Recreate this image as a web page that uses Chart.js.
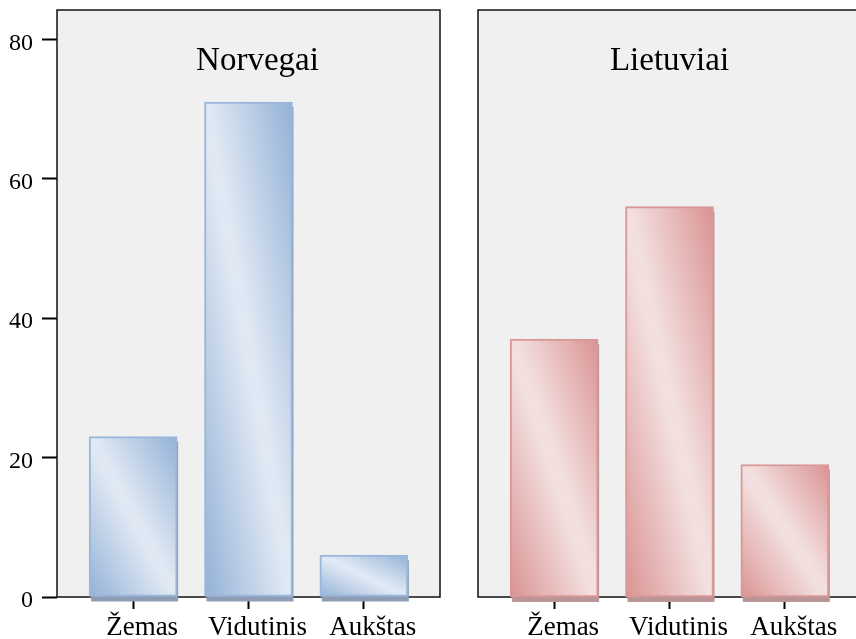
<!DOCTYPE html>
<html><head><meta charset="utf-8">
<script src="https://cdn.jsdelivr.net/npm/chart.js@4.4.0/dist/chart.umd.min.js"></script>
<style>
html,body{margin:0;padding:0;background:#fff;overflow:hidden;width:856px;height:639px;position:relative;}
#c1{position:absolute;left:0;top:0;}
#c2{position:absolute;left:440px;top:0;}
</style></head><body>
<canvas id="c1" width="450" height="639"></canvas>
<canvas id="c2" width="431" height="639"></canvas>
<script>
// ---- data ----
const categories = ['Žemas', 'Vidutinis', 'Aukštas'];
const norvegaiValues = [23, 71, 6];
const lietuviaiValues = [37, 56, 19];
const yTickValues = [0, 20, 40, 60, 80];
const panelTitles = ['Norvegai', 'Lietuviai'];

// ---- styling ----
const FONT = '"Liberation Serif", "Times New Roman", "DejaVu Serif", serif';
const BAR_W = 88;
const Y_MAX = 84.2;

function barGradient(c, dark, light) {
  if (c.type !== 'data') return light;
  const chart = c.chart, xs = chart.scales.x, ys = chart.scales.y;
  if (!xs || !ys || !c.raw) return light;
  const cx = xs.getPixelForValue(c.raw.x);
  const top = ys.getPixelForValue(c.raw.y), base = ys.getPixelForValue(0);
  if (![cx, top, base].every(Number.isFinite)) return light;
  const w = BAR_W, h = Math.max(1, base - top);
  const cy = (top + base) / 2;
  const k = w * h / (w * w + h * h);
  const coords = [cx - k * h, cy + k * w, cx + k * h, cy - k * w];
  if (!coords.every(Number.isFinite)) return light;
  const g = chart.ctx.createLinearGradient(coords[0], coords[1], coords[2], coords[3]);
  g.addColorStop(0, dark);
  g.addColorStop(0.47, light);
  g.addColorStop(0.53, light);
  g.addColorStop(1, dark);
  return g;
}

const panelPlugin = {
  id: 'panel',
  beforeDraw(chart, args, opts) {
    const a = chart.chartArea, ctx = chart.ctx;
    ctx.save();
    ctx.fillStyle = '#f0f0f0';
    ctx.fillRect(a.left, a.top, a.right - a.left, a.bottom - a.top);
    ctx.restore();
  },
  beforeDatasetsDraw(chart, args, opts) {
    const a = chart.chartArea, ctx = chart.ctx;
    ctx.save();
    ctx.strokeStyle = '#111';
    ctx.lineWidth = 1.5;
    ctx.strokeRect(a.left, a.top, a.right - a.left, a.bottom - a.top);
    ctx.fillStyle = '#000';
    ctx.font = '33px ' + FONT;
    ctx.textAlign = 'center';
    ctx.textBaseline = 'alphabetic';
    ctx.fillText(opts.text, (a.left + a.right) / 2 + opts.dx, a.top + 60);
    ctx.restore();
  }
};

const shadowPlugin = {
  id: 'barShadow',
  beforeDatasetsDraw(chart, args, opts) {
    const ctx = chart.ctx;
    const meta = chart.getDatasetMeta(0);
    ctx.save();
    ctx.fillStyle = opts.color;
    meta.data.forEach(el => {
      const p = el.getProps(['x', 'y', 'base', 'width'], true);
      ctx.fillRect(p.x - p.width / 2 + 2, p.y + 5, p.width - 1, p.base - p.y);
    });
    ctx.restore();
  }
};

function noPad(s) { s.paddingTop = 0; s.paddingBottom = 0; s.paddingLeft = 0; s.paddingRight = 0; }

function makeChart(id, title, values, dark, light, border, shadow, showY, padLeft, titleDx) {
  const chart = new Chart(document.getElementById(id), {
    type: 'bar',
    data: {
      datasets: [{
        data: values.map((v, i) => ({ x: i, y: v })),
        barThickness: BAR_W,
        borderWidth: 2,
        borderColor: border,
        borderSkipped: false,
        backgroundColor: c => barGradient(c, dark, light),
        clip: false
      }]
    },
    options: {
      responsive: false,
      animation: false,
      events: [],
      layout: { padding: { top: 10, right: 10, left: padLeft, bottom: 0 } },
      plugins: {
        legend: { display: false },
        tooltip: { enabled: false },
        panel: { text: title, dx: titleDx },
        barShadow: { color: shadow }
      },
      scales: {
        x: {
          type: 'linear', min: -0.66, max: 2.66, offset: false,
          afterBuildTicks: s => { s.ticks = categories.map((c, i) => ({ value: i })); },
          afterFit: s => { s.height = 42; noPad(s); },
          grid: { offset: false, drawOnChartArea: false, drawTicks: true, tickLength: 12, tickWidth: 2, tickColor: '#000' },
          border: { display: false },
          ticks: {
            callback: v => categories[v],
            font: { family: FONT, size: 27 }, color: '#000',
            padding: 3, labelOffset: 9, maxRotation: 0, minRotation: 0, autoSkip: false, includeBounds: false
          }
        },
        y: {
          type: 'linear', min: 0, max: Y_MAX, display: showY,
          afterBuildTicks: s => { s.ticks = yTickValues.map(v => ({ value: v })); },
          afterFit: s => { if (showY) s.width = 57; noPad(s); },
          grid: { offset: false, drawOnChartArea: false, drawTicks: true, tickLength: 15, tickWidth: 2, tickColor: '#000' },
          border: { display: false },
          ticks: {
            font: { family: FONT, size: 24 }, color: '#000',
            padding: 9, labelOffset: 4, includeBounds: false
          }
        }
      }
    },
    plugins: [panelPlugin, shadowPlugin]
  });
  chart.update();
  return chart;
}

makeChart('c1', panelTitles[0], norvegaiValues, '#93b1d7', '#dfe8f3', '#9ab6da', '#8e9db3', true, 0, 9);
makeChart('c2', panelTitles[1], lietuviaiValues, '#d99392', '#f3dfdf', '#d99797', '#bb9596', false, 38, 0);
</script>
</body></html>
